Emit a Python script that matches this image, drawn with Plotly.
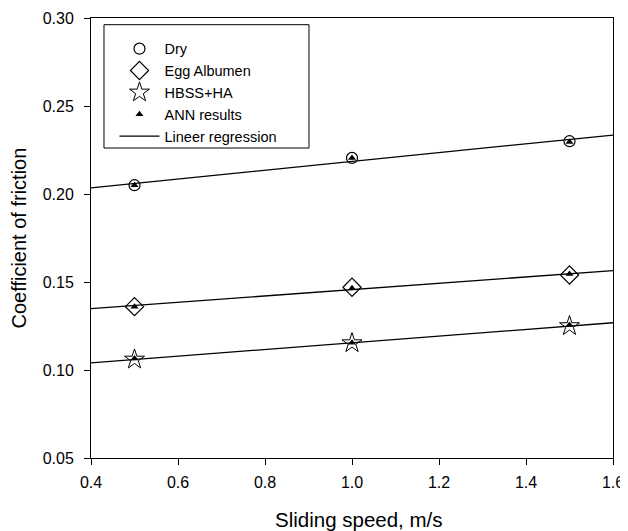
import numpy as np
import plotly.graph_objects as go

speed = [0.5, 1.0, 1.5]
dry = [0.205, 0.2205, 0.230]
egg = [0.136, 0.147, 0.154]
hbss = [0.106, 0.1153, 0.125]
ann_dry = [0.205, 0.2205, 0.2295]
ann_egg = [0.136, 0.1465, 0.1545]
ann_hbss = [0.1065, 0.1155, 0.1255]
x_ticks = [0.4, 0.6, 0.8, 1.0, 1.2, 1.4, 1.6]
y_ticks = [0.05, 0.10, 0.15, 0.20, 0.25, 0.30]
fit_range = [0.4, 1.6]

FONT = "Liberation Sans, Arial, sans-serif"
fig = go.Figure()

fig.add_trace(go.Scatter(x=speed, y=dry, mode="markers", name="Dry",
                         marker=dict(symbol="circle-open", size=11, color="black", line=dict(width=1.2))))
fig.add_trace(go.Scatter(x=speed, y=egg, mode="markers", name="Egg Albumen",
                         marker=dict(symbol="diamond-open", size=14, color="black", line=dict(width=1.2))))
fig.add_trace(go.Scatter(x=speed, y=hbss, mode="markers", name="HBSS+HA",
                         marker=dict(symbol="star-open", size=15, color="black", line=dict(width=1))))
fig.add_trace(go.Scatter(x=speed * 3, y=ann_dry + ann_egg + ann_hbss, mode="markers", name="ANN results",
                         marker=dict(symbol="triangle-up", size=7, color="black")))

xf = np.array(fit_range)
for i, ys in enumerate([dry, egg, hbss]):
    k, b = np.polyfit(speed, ys, 1)
    fig.add_trace(go.Scatter(x=xf, y=k * xf + b, mode="lines", name="Lineer regression",
                             showlegend=(i == 0), line=dict(color="black", width=1.3)))

# legend frame
fig.add_shape(type="rect", xref="paper", yref="paper",
              x0=0.0249, x1=0.4176, y0=0.7045, y1=0.9848,
              line=dict(color="black", width=1), fillcolor="white", layer="below")

# axis titles
fig.add_annotation(text="Sliding speed, m/s", xref="paper", yref="paper", x=0.513, y=-0.1409,
                   xanchor="center", yanchor="middle", showarrow=False, font=dict(size=20.5))
fig.add_annotation(text="Coefficient of friction", xref="paper", yref="paper", x=-0.137, y=0.5,
                   xanchor="center", yanchor="middle", textangle=-90, showarrow=False,
                   font=dict(size=20))

fig.update_layout(
    width=620, height=523,
    margin=dict(l=83, r=15, t=10, b=73),
    paper_bgcolor="white", plot_bgcolor="white",
    font=dict(family=FONT, size=16, color="black"),
    showlegend=True,
    legend=dict(x=0.045, y=0.9665, xanchor="left", yanchor="top",
                borderwidth=0, bgcolor="rgba(0,0,0,0)",
                font=dict(size=14.5), tracegroupgap=0, itemwidth=40),
    xaxis=dict(range=[0.4, 1.6], tickvals=x_ticks, ticktext=[f"{v:.1f}" for v in x_ticks],
               showgrid=False, zeroline=False, showline=True, linecolor="black", linewidth=1,
               mirror=True, ticks="outside", ticklen=6, tickcolor="black", automargin=False,
               tickfont=dict(size=16), ticklabelstandoff=4),
    yaxis=dict(range=[0.05, 0.30], tickvals=y_ticks, ticktext=[f"{v:.2f}" for v in y_ticks],
               showgrid=False, zeroline=False, showline=True, linecolor="black", linewidth=1,
               mirror=True, ticks="outside", ticklen=6, tickcolor="black", automargin=False,
               tickfont=dict(size=16), ticklabelstandoff=7),
)
fig.write_html("out.html")
